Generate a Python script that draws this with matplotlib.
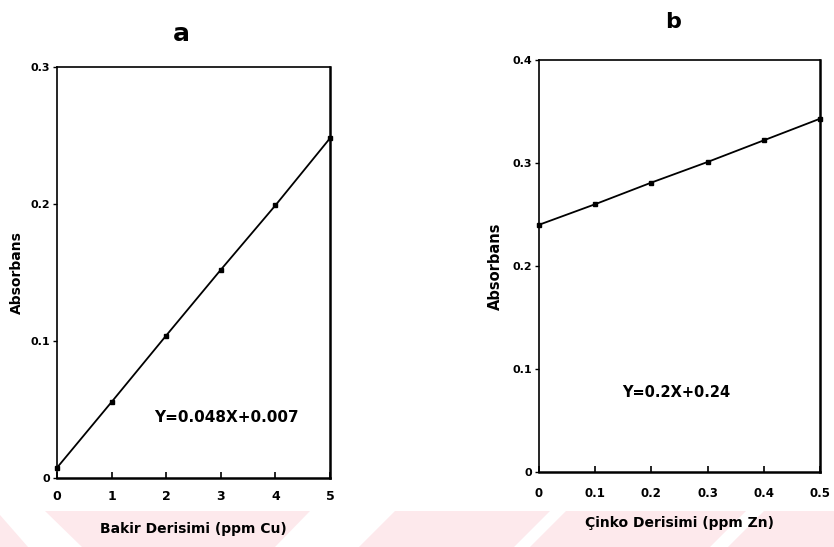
import matplotlib
matplotlib.use("Agg")
import matplotlib.pyplot as plt
from matplotlib.patches import Polygon

plt.rcParams["font.family"] = ["DejaVu Sans"]
plt.rcParams["font.weight"] = "bold"

# kalibrasyon verileri
cu_ppm = [0, 1, 2, 3, 4, 5]
cu_abs = [0.0075, 0.0555, 0.104, 0.152, 0.199, 0.248]
zn_ppm = [0, 0.1, 0.2, 0.3, 0.4, 0.5]
zn_abs = [0.240, 0.260, 0.281, 0.301, 0.322, 0.343]

cu_ticks = [0, 1, 2, 3, 4, 5]
cu_yticks = [0, 0.1, 0.2, 0.3]
zn_ticks = [0, 0.1, 0.2, 0.3, 0.4, 0.5]
zn_yticks = [0, 0.1, 0.2, 0.3, 0.4]

W, H = 834, 547
fig = plt.figure(figsize=(W / 100, H / 100), dpi=100)

# alt kenardaki soluk pembe bant (piksel koordinatlarında)
band = fig.add_axes([0, 0, 1, 1], zorder=-5)
band.set_axis_off()
band.set_xlim(0, W)
band.set_ylim(H, 0)
pembe = "#fde9ec"
seritler = [
    [(0, 515), (28, 547), (0, 547)],
    [(45, 511), (310, 511), (275, 547), (82, 547)],
    [(395, 511), (550, 511), (514, 547), (359, 547)],
    [(566, 511), (746, 511), (710, 547), (530, 547)],
    [(764, 511), (834, 511), (834, 547), (728, 547)],
]
for p in seritler:
    band.add_patch(Polygon(p, closed=True, fc=pembe, ec="none"))


def ciz(rect, x, y, xt, yt, xlab, denklem, dx, dy, dfs, xfs, xpad, ylx, ylfs):
    ax = fig.add_axes(rect)
    ax.plot(x, y, color="black", lw=1.3, marker="s", ms=3.5, mfc="black",
            mec="black", clip_on=False, zorder=3)
    ax.set_xlim(xt[0], xt[-1])
    ax.set_ylim(yt[0], yt[-1])
    ax.set_xticks(xt)
    ax.set_yticks(yt)
    ax.set_xticklabels([f"{v:g}" for v in xt], fontsize=xfs, fontweight="bold")
    ax.set_yticklabels([f"{v:g}" for v in yt], fontsize=8, fontweight="bold")
    ax.tick_params(axis="x", direction="in", length=4, width=1.2, pad=xpad)
    ax.tick_params(axis="y", direction="out", length=3, width=1.0, pad=2)
    for s in ("left", "top"):
        ax.spines[s].set_linewidth(1.2)
    for s in ("right", "bottom"):
        ax.spines[s].set_linewidth(1.8)
    ax.set_xlabel(xlab, fontsize=10, fontweight="bold", va="top")
    ax.xaxis.set_label_coords(0.5, -0.108)
    ax.set_ylabel("Absorbans", fontsize=ylfs, fontweight="bold")
    ax.yaxis.set_label_coords(ylx, 0.5)
    ax.text(dx, dy, denklem, ha="center", va="center", fontsize=dfs,
            fontweight="bold")
    return ax


ciz([57 / W, 1 - 478 / H, 273 / W, 411 / H], cu_ppm, cu_abs, cu_ticks,
    cu_yticks, "Bakir Derisimi (ppm Cu)", "Y=0.048X+0.007", 3.11, 0.0445,
    11, 9, 8.5, -0.121, 10)
ciz([539 / W, 1 - 472 / H, 281 / W, 412 / H], zn_ppm, zn_abs, zn_ticks,
    zn_yticks, "Çinko Derisimi (ppm Zn)", "Y=0.2X+0.24", 0.244, 0.0767,
    10.5, 8.5, 11, -0.128, 10.5)

fig.text(181 / W, 1 - 41 / H, "a", ha="center", va="baseline", fontsize=18,
         fontweight="bold")
fig.text(673 / W, 1 - 28 / H, "b", ha="center", va="baseline", fontsize=16,
         fontweight="bold")

fig.savefig("out.png", dpi=100)
